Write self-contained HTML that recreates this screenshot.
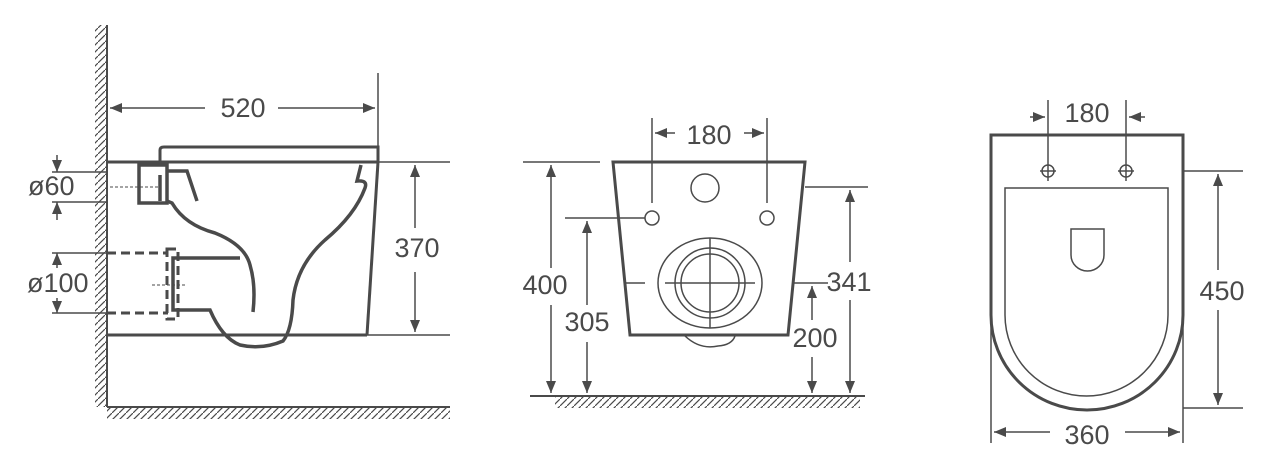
<!DOCTYPE html>
<html><head><style>
html,body{margin:0;padding:0;background:#fff;width:1280px;height:461px;overflow:hidden}
text{font-family:"Liberation Sans",sans-serif;font-size:27px;fill:#4a4a4a}
</style></head><body>
<svg width="1280" height="461" viewBox="0 0 1280 461" xmlns="http://www.w3.org/2000/svg">
<defs>
<pattern id="hv" width="7" height="7" patternUnits="userSpaceOnUse">
<line x1="0" y1="7" x2="7" y2="0" stroke="#4a4a4a" stroke-width="1.2"/>
</pattern>
<marker id="a" viewBox="0 0 12 10" refX="12" refY="5" markerWidth="12" markerHeight="10" markerUnits="userSpaceOnUse" orient="auto">
<path d="M0,0 L12,5 L0,10 z" fill="#4a4a4a"/>
</marker>
</defs>
<g stroke="#4a4a4a" fill="none">
<!-- LEFT VIEW -->
<rect x="95" y="25" width="12" height="382" fill="url(#hv)" stroke="none"/>
<rect x="107" y="407" width="343" height="12" fill="url(#hv)" stroke="none"/>
<line x1="107" y1="25" x2="107" y2="407" stroke-width="2"/>
<line x1="107" y1="407" x2="450" y2="407" stroke-width="2"/>
<line x1="107" y1="162" x2="378" y2="162" stroke-width="3"/>
<line x1="378" y1="162" x2="450" y2="162" stroke-width="1.5"/>
<line x1="107" y1="335" x2="367" y2="335" stroke-width="3"/>
<line x1="367" y1="335" x2="450" y2="335" stroke-width="1.5"/>
<line x1="378" y1="162" x2="367" y2="335" stroke-width="3"/>
<path d="M160,162 L160,150 Q160,147 164,147 L378,147 L378,162" stroke-width="3"/>
<line x1="378" y1="73" x2="378" y2="147" stroke-width="1.5"/>
<line x1="205" y1="108" x2="110" y2="108" stroke-width="1.5" marker-end="url(#a)"/>
<line x1="278" y1="108" x2="375" y2="108" stroke-width="1.5" marker-end="url(#a)"/>
<g stroke-width="3.5">
<rect x="139" y="165" width="28" height="38"/>
<path d="M160,175 L160,201"/>
<path d="M167,171 L187,171 L197,201"/>
<path d="M167,201 L172,203 Q185,225 215,233 Q245,245 250,265 Q256,285 253,312"/>
<path d="M240,258 L173,258 L173,310 L210,310 Q222,338 240,345 Q262,350 283,341 Q292,330 293,300 Q297,265 325,240 Q355,215 365,188 Q368,180 357,181 L361,165"/>
</g>
<g stroke-width="3" stroke-dasharray="9,5">
<line x1="107" y1="253" x2="168" y2="253"/>
<line x1="107" y1="313" x2="168" y2="313"/>
<rect x="167" y="249" width="11" height="70"/>
</g>
<line x1="110" y1="187" x2="160" y2="187" stroke-width="1" stroke-dasharray="3,2"/>
<line x1="152" y1="285" x2="185" y2="285" stroke-width="1" stroke-dasharray="3,2"/>
<line x1="52" y1="172" x2="107" y2="172" stroke-width="1.5"/>
<line x1="52" y1="202" x2="107" y2="202" stroke-width="1.5"/>
<line x1="57" y1="155" x2="57" y2="172" stroke-width="1.5" marker-end="url(#a)"/>
<line x1="57" y1="220" x2="57" y2="202" stroke-width="1.5" marker-end="url(#a)"/>
<line x1="52" y1="253" x2="107" y2="253" stroke-width="1.5"/>
<line x1="52" y1="313" x2="107" y2="313" stroke-width="1.5"/>
<line x1="57" y1="268" x2="57" y2="253" stroke-width="1.5" marker-end="url(#a)"/>
<line x1="57" y1="298" x2="57" y2="313" stroke-width="1.5" marker-end="url(#a)"/>
<line x1="415" y1="228" x2="415" y2="165" stroke-width="1.5" marker-end="url(#a)"/>
<line x1="415" y1="272" x2="415" y2="332" stroke-width="1.5" marker-end="url(#a)"/>

<!-- MIDDLE VIEW -->
<rect x="555" y="396" width="305" height="12" fill="url(#hv)" stroke="none"/>
<line x1="530" y1="396" x2="865" y2="396" stroke-width="2"/>
<path d="M613,162 L805,162 L788,335 L630,335 Z" stroke-width="3"/>
<path d="M685,336 Q700,350 718,346 Q732,345 735,336" stroke-width="1.5"/>
<circle cx="705" cy="188" r="14" stroke-width="1.5"/>
<circle cx="652" cy="218" r="7" stroke-width="1.5"/>
<circle cx="767" cy="218" r="7" stroke-width="1.5"/>
<ellipse cx="710" cy="283" rx="52" ry="45" stroke-width="1.5"/>
<circle cx="710" cy="283" r="35" stroke-width="1.5"/>
<circle cx="710" cy="283" r="29" stroke-width="1.5"/>
<line x1="665" y1="283" x2="755" y2="283" stroke-width="1.5"/>
<line x1="710" y1="238" x2="710" y2="328" stroke-width="1.5"/>
<line x1="625" y1="283" x2="645" y2="283" stroke-width="1.5"/>
<line x1="652" y1="118" x2="652" y2="203" stroke-width="1.5"/>
<line x1="767" y1="118" x2="767" y2="203" stroke-width="1.5"/>
<line x1="675" y1="133" x2="655" y2="133" stroke-width="1.5" marker-end="url(#a)"/>
<line x1="744" y1="133" x2="764" y2="133" stroke-width="1.5" marker-end="url(#a)"/>
<line x1="523" y1="162" x2="600" y2="162" stroke-width="1.5"/>
<line x1="551" y1="268" x2="551" y2="165" stroke-width="1.5" marker-end="url(#a)"/>
<line x1="551" y1="305" x2="551" y2="393" stroke-width="1.5" marker-end="url(#a)"/>
<line x1="565" y1="218" x2="645" y2="218" stroke-width="1.5"/>
<line x1="587" y1="305" x2="587" y2="221" stroke-width="1.5" marker-end="url(#a)"/>
<line x1="587" y1="342" x2="587" y2="393" stroke-width="1.5" marker-end="url(#a)"/>
<line x1="805" y1="187" x2="868" y2="187" stroke-width="1.5"/>
<line x1="850" y1="262" x2="850" y2="190" stroke-width="1.5" marker-end="url(#a)"/>
<line x1="850" y1="300" x2="850" y2="393" stroke-width="1.5" marker-end="url(#a)"/>
<line x1="793" y1="283" x2="828" y2="283" stroke-width="1.5"/>
<line x1="812" y1="320" x2="812" y2="286" stroke-width="1.5" marker-end="url(#a)"/>
<line x1="812" y1="357" x2="812" y2="393" stroke-width="1.5" marker-end="url(#a)"/>

<!-- RIGHT VIEW -->
<path d="M991,135 L1183,135 L1183,315 A96,95 0 0 1 991,315 Z" stroke-width="3"/>
<path d="M1005,188 L1168,188 L1168,315 A81.5,81 0 0 1 1005,315 Z" stroke-width="1.5"/>
<path d="M1071,229 L1104,229 L1104,255 A16.5,16 0 0 1 1071,255 Z" stroke-width="1.5"/>
<circle cx="1048" cy="171" r="6" stroke-width="1.5"/>
<circle cx="1126" cy="171" r="6" stroke-width="1.5"/>
<line x1="1040" y1="171" x2="1056" y2="171" stroke-width="1.5"/>
<line x1="1118" y1="171" x2="1134" y2="171" stroke-width="1.5"/>
<line x1="1048" y1="100" x2="1048" y2="181" stroke-width="1.5"/>
<line x1="1126" y1="100" x2="1126" y2="181" stroke-width="1.5"/>
<line x1="1030" y1="117" x2="1045" y2="117" stroke-width="1.5" marker-end="url(#a)"/>
<line x1="1145" y1="117" x2="1129" y2="117" stroke-width="1.5" marker-end="url(#a)"/>
<line x1="1183" y1="171" x2="1243" y2="171" stroke-width="1.5"/>
<line x1="1183" y1="408" x2="1243" y2="408" stroke-width="1.5"/>
<line x1="1218" y1="270" x2="1218" y2="174" stroke-width="1.5" marker-end="url(#a)"/>
<line x1="1218" y1="310" x2="1218" y2="405" stroke-width="1.5" marker-end="url(#a)"/>
<line x1="991" y1="315" x2="991" y2="443" stroke-width="1.5"/>
<line x1="1183" y1="315" x2="1183" y2="443" stroke-width="1.5"/>
<line x1="1050" y1="432" x2="994" y2="432" stroke-width="1.5" marker-end="url(#a)"/>
<line x1="1125" y1="432" x2="1180" y2="432" stroke-width="1.5" marker-end="url(#a)"/>
</g>
<g stroke="none">
<text x="243" y="117" text-anchor="middle">520</text>
<text x="28" y="195">ø60</text>
<text x="27" y="292">ø100</text>
<text x="417" y="257" text-anchor="middle">370</text>
<text x="709" y="144" text-anchor="middle">180</text>
<text x="545" y="294" text-anchor="middle">400</text>
<text x="587" y="331" text-anchor="middle">305</text>
<text x="849" y="291" text-anchor="middle">341</text>
<text x="815" y="347" text-anchor="middle">200</text>
<text x="1087" y="122" text-anchor="middle">180</text>
<text x="1222" y="300" text-anchor="middle">450</text>
<text x="1087" y="444" text-anchor="middle">360</text>
</g>
</svg>
</body></html>
